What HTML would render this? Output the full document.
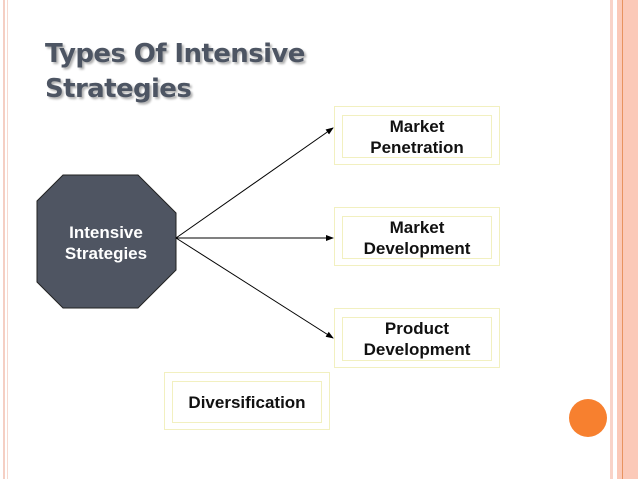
<!DOCTYPE html>
<html><head><style>
html,body{margin:0;padding:0;background:#fff;}
body{width:638px;height:479px;position:relative;overflow:hidden;font-family:"Liberation Sans",Arial,sans-serif;}
.t{position:absolute;left:45px;font-family:"Comic Sans MS","DejaVu Sans",sans-serif;font-weight:bold;font-size:26px;color:#4d5563;text-shadow:2px 2px 2px #b0b0b0;letter-spacing:-0.6px;line-height:35px;}
.box{position:absolute;border:1px solid #f2f0c0;box-sizing:border-box;background:#fff;}
.box .in{position:absolute;left:7px;top:8px;right:7px;bottom:6px;border:1px solid #f2f0c0;display:flex;align-items:center;justify-content:center;text-align:center;font-family:"Liberation Sans",Arial,sans-serif;font-weight:bold;font-size:17px;line-height:21px;color:#111;}
</style></head><body>
<div style="position:absolute;left:3px;top:0;width:2px;height:479px;background:#f5cfc4"></div>
<div style="position:absolute;left:7px;top:0;width:1px;height:479px;background:#f7d9d0"></div>
<div style="position:absolute;left:610px;top:0;width:3px;height:479px;background:#f9d3c8"></div>
<div style="position:absolute;left:617px;top:0;width:21px;height:479px;background:#fbc9b8"></div>
<div style="position:absolute;left:622px;top:0;width:1px;height:479px;background:#e8935f"></div>
<div style="position:absolute;left:569px;top:399px;width:38px;height:38px;border-radius:50%;background:#f7802f"></div>
<div class="t" style="top:37px">Types Of Intensive<br>Strategies</div>
<svg style="position:absolute;left:0;top:0" width="638" height="479">
<defs><marker id="a" markerWidth="8" markerHeight="6" refX="7" refY="3" orient="auto" markerUnits="userSpaceOnUse"><path d="M0,0L8,3L0,6z" fill="#000"/></marker></defs>
<polygon points="63,175 138,175 176,213 176,270 138,308 63,308 37,282 37,201" fill="#4f5562" stroke="#222" stroke-width="1"/>
<text x="106" y="238" fill="#fff" font-family="Liberation Sans, Arial, sans-serif" font-weight="bold" font-size="17" text-anchor="middle">Intensive</text>
<text x="106" y="259" fill="#fff" font-family="Liberation Sans, Arial, sans-serif" font-weight="bold" font-size="17" text-anchor="middle">Strategies</text>
<line x1="176" y1="238" x2="333" y2="128" stroke="#000" stroke-width="1" marker-end="url(#a)"/>
<line x1="176" y1="238" x2="333" y2="238" stroke="#000" stroke-width="1" marker-end="url(#a)"/>
<line x1="176" y1="238" x2="333" y2="338" stroke="#000" stroke-width="1" marker-end="url(#a)"/>
</svg>
<div class="box" style="left:334px;top:106px;width:166px;height:59px"><div class="in">Market<br>Penetration</div></div>
<div class="box" style="left:334px;top:207px;width:166px;height:59px"><div class="in">Market<br>Development</div></div>
<div class="box" style="left:334px;top:308px;width:166px;height:60px"><div class="in">Product<br>Development</div></div>
<div class="box" style="left:164px;top:372px;width:166px;height:58px"><div class="in">Diversification</div></div>
</body></html>
